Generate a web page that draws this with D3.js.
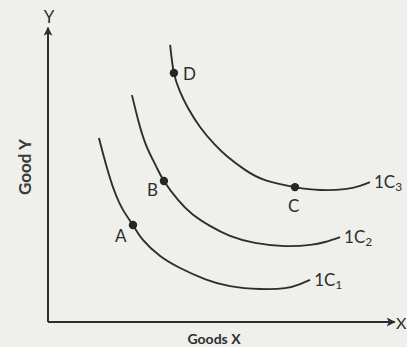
<!DOCTYPE html>
<html><head><meta charset="utf-8">
<script src="https://cdn.jsdelivr.net/npm/d3@7"></script>
<style>html,body{margin:0;padding:0;background:#efefec;}svg{display:block;}</style>
</head><body>
<script>
// Indifference curves (data units: Goods X 0-10, Good Y 0-10)
const ic1 = [[1.48,6.30],[1.69,5.38],[1.92,4.52],[2.18,3.84],[2.47,3.32],[2.76,2.81],[3.26,2.26],[3.84,1.85],[4.56,1.47],[5.29,1.23],[6.16,1.13],[6.89,1.16],[7.33,1.30],[7.62,1.44]];
const ic2 = [[2.44,7.77],[2.62,6.92],[2.85,6.06],[3.14,5.34],[3.37,4.83],[3.78,4.18],[4.19,3.70],[4.71,3.29],[5.29,2.95],[6.02,2.71],[6.89,2.60],[7.62,2.64],[8.05,2.74],[8.49,2.91]];
const ic3 = [[3.55,9.49],[3.66,8.53],[3.84,7.88],[4.07,7.33],[4.42,6.68],[4.83,6.10],[5.23,5.65],[5.73,5.21],[6.31,4.86],[7.18,4.62],[7.91,4.52],[8.63,4.55],[9.07,4.66],[9.36,4.79]];
const curveNames = ["1C", "1C", "1C"];
const curveSubs = ["1", "2", "3"];
const pointNames = ["A", "B", "C", "D"];
const pointValues = [[2.47,3.32],[3.37,4.83],[7.18,4.62],[3.66,8.53]];

const W = 407, H = 347;
const svg = d3.select("body").append("svg").attr("width", W).attr("height", H);
const x = d3.scaleLinear().domain([0, 10]).range([48, 392]);
const y = d3.scaleLinear().domain([0, 10]).range([322, 30]);
const ink = "#2e2e2e";
const font = "Lato, 'Open Sans', sans-serif";

// arrowheads
const defs = svg.append("defs");
defs.append("marker").attr("id", "arr").attr("viewBox", "0 0 10 10")
  .attr("refX", 9).attr("refY", 5).attr("markerWidth", 5).attr("markerHeight", 4.5)
  .attr("orient", "auto").attr("markerUnits", "strokeWidth")
  .append("path").attr("d", "M0,0L10,5L0,10L2.5,5Z").attr("fill", ink);

// axes
svg.append("line").attr("x1", x(0)).attr("y1", y(0)).attr("x2", x(0)).attr("y2", y(10.08))
  .attr("stroke", ink).attr("stroke-width", 2).attr("marker-end", "url(#arr)");
svg.append("line").attr("x1", x(0)).attr("y1", y(0)).attr("x2", x(10.08)).attr("y2", y(0))
  .attr("stroke", ink).attr("stroke-width", 2).attr("marker-end", "url(#arr)");

svg.append("text").attr("x", x(0) + 1).attr("y", 23).attr("text-anchor", "middle")
  .attr("font-family", font).attr("font-size", 17).attr("fill", ink).text("Y");
svg.append("text").attr("x", 396).attr("y", 329)
  .attr("font-family", font).attr("font-size", 16).attr("fill", ink).text("X");
svg.append("text").attr("x", 214).attr("y", 344).attr("text-anchor", "middle")
  .attr("font-family", font).attr("font-size", 14).attr("font-weight", "bold").attr("fill", ink).text("Goods X");
svg.append("text").attr("transform", "translate(31,167) rotate(-90)").attr("text-anchor", "middle")
  .attr("font-family", font).attr("font-size", 17).attr("font-weight", "bold").attr("fill", "#3a3a3a").text("Good Y");

// curves
const line = d3.line().x(d => x(d[0])).y(d => y(d[1])).curve(d3.curveNatural);
const curves = [ic1, ic2, ic3];
svg.selectAll("path.ic").data(curves).join("path").attr("class", "ic")
  .attr("d", line).attr("fill", "none").attr("stroke", ink).attr("stroke-width", 1.9);

// curve labels
const lbl = svg.selectAll("text.icl").data(curves).join("text").attr("class", "icl")
  .attr("x", d => x(d[d.length - 1][0]) + 4)
  .attr("y", d => y(d[d.length - 1][1]) + 6)
  .attr("font-family", font).attr("font-size", 17).attr("fill", ink);
lbl.append("tspan").text((d, i) => curveNames[i]);
lbl.append("tspan").attr("font-size", 12).attr("dy", 3).text((d, i) => curveSubs[i]);

// points
svg.selectAll("circle.pt").data(pointValues).join("circle").attr("class", "pt")
  .attr("cx", d => x(d[0])).attr("cy", d => y(d[1])).attr("r", 4.2).attr("fill", "#262626");
const off = [[-18, 17], [-17, 15], [-7, 25], [9, 7]];
svg.selectAll("text.ptl").data(pointValues).join("text").attr("class", "ptl")
  .attr("x", (d, i) => x(d[0]) + off[i][0]).attr("y", (d, i) => y(d[1]) + off[i][1])
  .attr("font-family", font).attr("font-size", 17).attr("fill", ink)
  .text((d, i) => pointNames[i]);
</script>
</body></html>
